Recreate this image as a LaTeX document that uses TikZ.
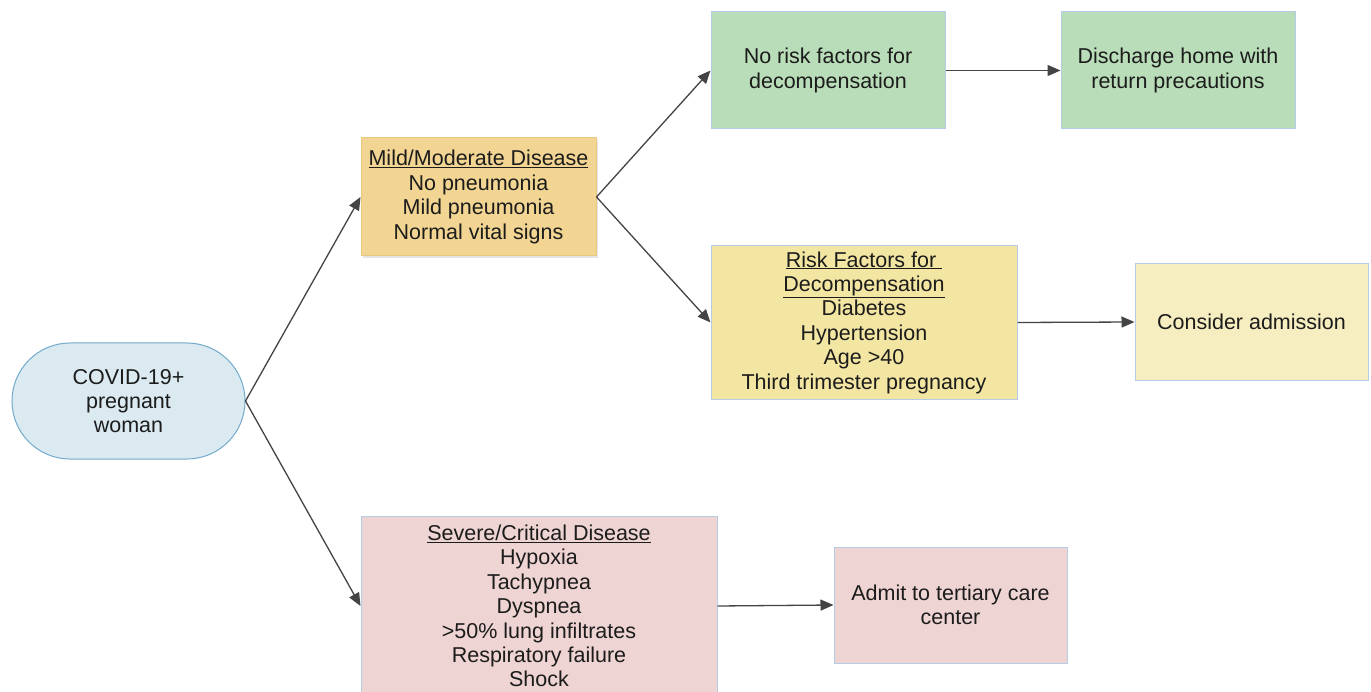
\documentclass[tikz,border=0pt]{standalone}
\usepackage{fontspec}
\setmainfont{Liberation Sans}
\usetikzlibrary{arrows.meta,shadows}
\definecolor{txt}{HTML}{1C1C1C}
\definecolor{arr}{HTML}{444444}
\definecolor{pillfill}{HTML}{DBE9F1}
\definecolor{pilldraw}{HTML}{72AACB}
\definecolor{mildfill}{HTML}{F2D592}
\definecolor{milddraw}{HTML}{E6C97E}
\definecolor{greenfill}{HTML}{B9DDB8}
\definecolor{boxdraw}{HTML}{B4CCE6}
\definecolor{riskfill}{HTML}{F3E6A2}
\definecolor{considerfill}{HTML}{F6EDC0}
\definecolor{redfill}{HTML}{EED4D3}
\tikzset{
  base/.style={font=\fontsize{21.5}{24.4}\selectfont, text=txt, align=center, inner sep=0pt, line width=1pt},
  boxnode/.style={base, rectangle, draw=boxdraw},
  arrowline/.style={draw=arr, line width=1.3pt, -{Triangle[length=13pt,width=11pt]}}
}
\begin{document}
\begin{tikzpicture}[x=1pt,y=-1pt]
\clip (0,0) rectangle (1371,692);
\fill[white] (0,0) rectangle (1371,692);
\node[base, draw=pilldraw, fill=pillfill, rounded corners=58pt, minimum width=233pt, minimum height=116pt] (start) at (128.5,401) {COVID-19+\\pregnant\\woman};
\node[base, draw=milddraw, fill=mildfill, minimum width=235pt, minimum height=118pt, drop shadow={opacity=0.2, shadow xshift=2pt, shadow yshift=-2pt}] (mild) at (478.5,197) {\underline{Mild/Moderate Disease}\\No pneumonia\\Mild pneumonia\\Normal vital signs};
\node[boxnode, fill=greenfill, minimum width=234pt, minimum height=117pt] (norisk) at (828,70.5) {No risk factors for\\decompensation};
\node[boxnode, fill=greenfill, minimum width=234pt, minimum height=117pt] (discharge) at (1178,70.5) {Discharge home with\\return precautions};
\node[boxnode, fill=riskfill, minimum width=306pt, minimum height=154pt] (risk) at (864,322.5) {\underline{Risk Factors for }\\\underline{Decompensation}\\Diabetes\\Hypertension\\Age >40\\Third trimester pregnancy};
\node[boxnode, fill=considerfill, minimum width=233pt, minimum height=117pt] (consider) at (1251.5,322) {Consider admission};
\node[boxnode, fill=redfill, minimum width=356pt, minimum height=180pt] (severe) at (539,606) {\underline{Severe/Critical Disease}\\Hypoxia\\Tachypnea\\Dyspnea\\>50\% lung infiltrates\\Respiratory failure\\Shock};
\node[boxnode, fill=redfill, minimum width=233pt, minimum height=116pt] (admit) at (950.5,605) {Admit to tertiary care\\center};
\draw[arrowline] (start.east) -- (mild.west);
\draw[arrowline] (start.east) -- (severe.west);
\draw[arrowline] (mild.east) -- (norisk.west);
\draw[arrowline] (mild.east) -- (risk.west);
\draw[arrowline] (norisk.east) -- (discharge.west);
\draw[arrowline] (risk.east) -- (consider.west);
\draw[arrowline] (severe.east) -- (admit.west);
\end{tikzpicture}
\end{document}
